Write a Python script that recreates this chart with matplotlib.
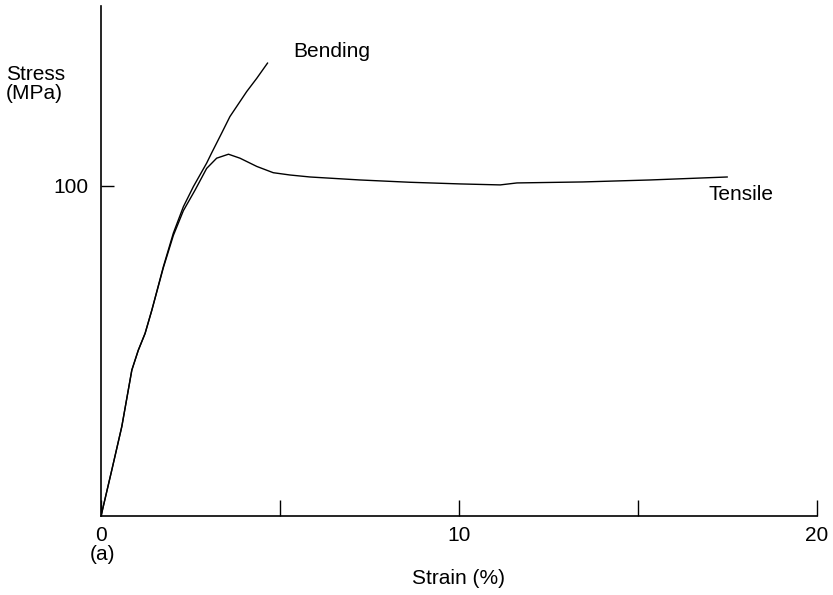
import matplotlib.pyplot as plt

plt.rcParams['font.family'] = ['Liberation Sans', 'DejaVu Sans']
plt.rcParams['font.size'] = 15

# Stress-strain curves, strain in %, stress in MPa
bending_strain = [0, 0.30, 0.58, 0.86, 1.04, 1.23, 1.42, 1.74, 2.02, 2.30, 2.58, 2.95,
                  3.09, 3.37, 3.60, 4.07, 4.35, 4.65]
bending_stress = [0, 13.9, 27.1, 44.2, 50.2, 55.3, 62.4, 75.5, 85.7, 93.7, 99.8, 106.9,
                  110.0, 116.0, 121.0, 128.6, 132.6, 137.2]

tensile_strain = [0, 0.30, 0.58, 0.86, 1.04, 1.23, 1.42, 1.74, 2.02, 2.30, 2.63, 2.95,
                  3.23, 3.56, 3.88, 4.35, 4.81, 5.28, 5.84, 7.23, 8.63, 10.03, 11.15,
                  11.62, 13.46, 15.34, 17.49]
tensile_stress = [0, 13.9, 27.1, 44.2, 50.2, 55.3, 62.4, 75.2, 85.0, 92.5, 98.8, 105.3,
                  108.4, 109.6, 108.4, 105.9, 104.0, 103.3, 102.7, 101.8, 101.1, 100.6, 100.3,
                  100.9, 101.2, 101.8, 102.7]

x_ticks = [0, 5, 10, 15, 20]
x_tick_labels = ['0', '', '10', '', '20']
y_ticks = [100]

fig = plt.figure(figsize=(8.33, 5.95), dpi=100)
ax = fig.add_axes([0.1213, 0.1328, 0.8595, 0.8571])

ax.plot(bending_strain, bending_stress, color='black', lw=1.0)
ax.plot(tensile_strain, tensile_stress, color='black', lw=1.0)

ax.set_xlim(0, 20)
ax.set_ylim(0, 154.5)
ax.spines['top'].set_visible(False)
ax.spines['right'].set_visible(False)
ax.spines['left'].set_linewidth(1.2)
ax.spines['bottom'].set_linewidth(1.2)

ax.set_xticks(x_ticks)
ax.set_xticklabels(x_tick_labels)
ax.set_yticks(y_ticks)
ax.tick_params(axis='x', direction='in', length=11.5, width=1.0, pad=7)
ax.tick_params(axis='y', direction='in', length=9.5, width=1.0, pad=9)

ax.text(5.36, 140.6, 'Bending', va='center', ha='left')
ax.text(16.96, 97.3, 'Tensile', va='center', ha='left')

fig.text(6 / 833, 1 - 84 / 595, 'Stress\n(MPa)', va='center', ha='left', linespacing=1.0)
fig.text(90 / 833, 1 - 555 / 595, '(a)', va='center', ha='left')
fig.text(458 / 833, 1 - 578 / 595, 'Strain (%)', va='center', ha='center')

fig.savefig('out.png', dpi=100)
